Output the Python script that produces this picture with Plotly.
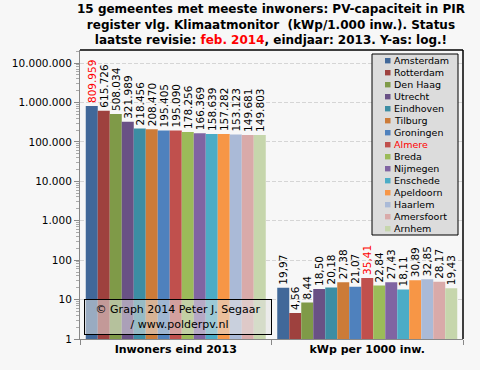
import plotly.graph_objects as go

categories = ["Inwoners eind 2013", "kWp per 1000 inw."]
cities = ["Amsterdam", "Rotterdam", "Den Haag", "Utrecht", "Eindhoven", "Tilburg",
          "Groningen", "Almere", "Breda", "Nijmegen", "Enschede", "Apeldoorn",
          "Haarlem", "Amersfoort", "Arnhem"]
inwoners = [809959, 615726, 508034, 321989, 218456, 208470, 195405, 195090,
            178256, 166369, 158639, 157282, 153123, 149681, 149803]
kwp_per_1000 = [19.97, 4.56, 8.44, 18.50, 20.18, 27.38, 21.07, 35.41,
                22.84, 27.43, 18.11, 30.89, 32.85, 28.17, 19.43]
colors = ["#416899", "#9E413E", "#7F9A48", "#695185", "#3C8DA3", "#CC7B38",
          "#4F81BD", "#C0504D", "#9BBB59", "#8064A2", "#4BACC6", "#F79646",
          "#AABAD7", "#D9AAA9", "#C6D6AC"]
y_tick_vals = [1, 10, 100, 1000, 10000, 100000, 1000000, 10000000]
y_tick_text = ["1", "10", "100", "1.000", "10.000", "100.000", "1.000.000", "10.000.000"]

FONT = "DejaVu Sans"
BG = "#f7f7f7"

def fmt_int(v):
    return f"{v:,}".replace(",", ".")

def fmt_dec(v):
    return f"{v:.2f}".replace(".", ",")

fig = go.Figure()
for i, city in enumerate(cities):
    tcol = ["black", "black"]
    if city == "Amsterdam":
        tcol[0] = "red"
    if city == "Almere":
        tcol[1] = "red"
    fig.add_trace(go.Bar(
        name=city, x=categories, y=[inwoners[i], kwp_per_1000[i]],
        marker=dict(color=colors[i], line=dict(width=0)),
        text=[fmt_int(inwoners[i]), fmt_dec(kwp_per_1000[i])],
        textposition="outside", textangle=-90, cliponaxis=False,
        constraintext="none",
        textfont=dict(family=FONT, size=10.5, color=tcol),
        showlegend=False, hoverinfo="none",
    ))

L, R, T, B = 80, 17, 50, 31
W, H = 480, 370
pw, ph = W - L - R, H - T - B

def px(x):
    return (x - L) / pw

def py(y):
    return (H - B - y) / ph

shapes = []
annotations = []
# plot border top/right black
shapes.append(dict(type="line", xref="paper", yref="paper", x0=0, x1=1, y0=1, y1=1,
                   line=dict(color="black", width=1.5)))
shapes.append(dict(type="line", xref="paper", yref="paper", x0=1, x1=1, y0=0, y1=1,
                   line=dict(color="black", width=1.5)))
# legend box
shapes.append(dict(type="rect", xref="paper", yref="paper", x0=px(372), x1=px(458),
                   y0=py(235), y1=py(54), fillcolor="#dcdcdc",
                   line=dict(color="black", width=1), layer="above"))
for i, city in enumerate(cities):
    yc = 60.7 + 12.0 * i
    shapes.append(dict(type="rect", xref="paper", yref="paper", x0=px(385), x1=px(390.5),
                       y0=py(yc + 2.7), y1=py(yc - 2.7), fillcolor=colors[i],
                       line=dict(width=0), layer="above"))
    annotations.append(dict(text=city, xref="paper", yref="paper", x=px(391.5), y=py(yc),
                            xanchor="left", yanchor="middle", showarrow=False,
                            font=dict(family=FONT, size=9.5,
                                      color="red" if city == "Almere" else "black")))
# watermark
annotations.append(dict(text="© Graph 2014 Peter J. Segaar<br> / www.polderpv.nl",
                        xref="paper", yref="paper", x=px(177.5), y=py(316.5),
                        xanchor="center", yanchor="middle", showarrow=False,
                        width=184, height=32, align="center",
                        bgcolor="rgba(225,225,225,0.55)", bordercolor="black",
                        borderwidth=1, borderpad=1,
                        font=dict(family=FONT, size=11, color="black")))
# title
annotations.append(dict(
    text="15 gemeentes met meeste inwoners: PV-capaciteit in PIR<br>"
         "register vlg. Klimaatmonitor  (kWp/1.000 inw.). Status<br>"
         "laatste revisie: <span style='color:red'>feb. 2014</span>, eindjaar: 2013. Y-as: log.!",
    xref="paper", yref="paper", x=px(271), y=py(0), xanchor="center", yanchor="top",
    showarrow=False, align="center",
    font=dict(family=FONT, size=12, color="black", weight="bold"),
))

fig.update_layout(
    width=W, height=H,
    margin=dict(l=L, r=R, t=T, b=B, autoexpand=False),
    paper_bgcolor=BG, plot_bgcolor=BG,
    barmode="group", bargap=0.06, bargroupgap=0,
    separators=",.",
    hovermode=False,
    xaxis=dict(
        automargin=False,
        showline=True, linecolor="#888888", linewidth=1,
        ticks="outside", ticklen=5, tickcolor="#888888", tickson="boundaries",
        tickfont=dict(family=FONT, size=11, color="black", weight="bold"),
        showgrid=False,
    ),
    yaxis=dict(
        automargin=False,
        type="log", range=[0, 7.33],
        tickmode="array", tickvals=y_tick_vals, ticktext=y_tick_text,
        showline=True, linecolor="#888888", linewidth=1,
        ticks="outside", ticklen=5, tickcolor="#888888",
        minor=dict(ticks="outside", ticklen=3, tickcolor="#aaaaaa", dtick="D1", showgrid=False),
        tickfont=dict(family=FONT, size=10.5, color="black"),
        showgrid=True, gridcolor="#d5d5d5", griddash="4px,2px",
        zeroline=False,
    ),
    shapes=shapes, annotations=annotations,
    font=dict(family=FONT),
)

fig.write_html("out.html", config={"displayModeBar": False},
               post_script="document.body.style.margin='0';document.body.style.background='%s';" % BG)
